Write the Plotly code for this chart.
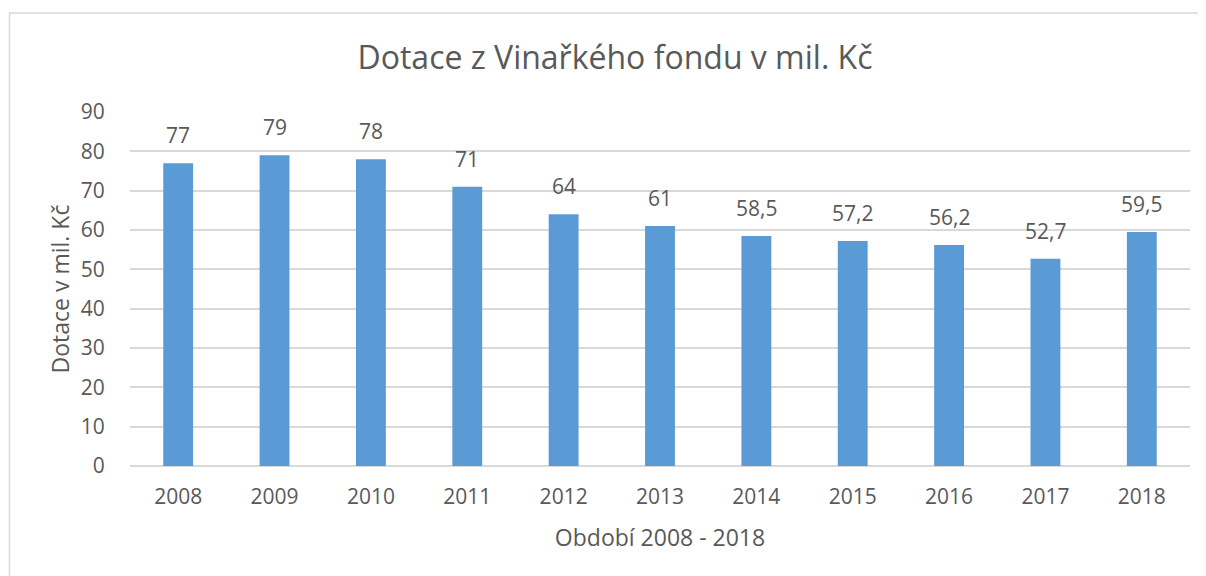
import plotly.graph_objects as go

years = ["2008", "2009", "2010", "2011", "2012", "2013", "2014", "2015", "2016", "2017", "2018"]
values = [77, 79, 78, 71, 64, 61, 58.5, 57.2, 56.2, 52.7, 59.5]
labels = ["77", "79", "78", "71", "64", "61", "58,5", "57,2", "56,2", "52,7", "59,5"]
y_ticks = [0, 10, 20, 30, 40, 50, 60, 70, 80, 90]

TXT = "#595959"
FONT = "Open Sans"

# page body has an 8px margin, so figure coordinates = screen - 8
W, H = 1198, 568
L, R, T, B = 122, 16, 104, 110
PW, PH = W - L - R, H - T - B

fig = go.Figure()
fig.add_trace(go.Bar(x=years, y=values, marker=dict(color="#5B9BD5", line=dict(width=0)),
                     width=0.31, hoverinfo="x+y"))

# category axis: annotation x given as category index
for i, (v, t) in enumerate(zip(values, labels)):
    fig.add_annotation(x=i, y=v, text=t, showarrow=False, yanchor="bottom", yshift=12,
                       font=dict(family=FONT, size=21, color=TXT))

fig.add_shape(type="rect", xref="paper", yref="paper",
              x0=(1.5 - L) / PW, x1=(W + 10 - L) / PW,
              y0=-(B + 20) / PH, y1=(H - B - 5) / PH,
              line=dict(color="#D9D9D9", width=1.5), fillcolor="rgba(0,0,0,0)", layer="below")

fig.update_layout(
    width=W, height=H,
    margin=dict(l=L, r=R, t=T, b=B),
    paper_bgcolor="white", plot_bgcolor="white",
    showlegend=False,
    font=dict(family=FONT, color=TXT, size=21),
    title=dict(text="Dotace z Vinařkého fondu v mil. Kč", x=607 / W, xanchor="center",
               y=1 - 50 / H, yanchor="middle", font=dict(family=FONT, size=32, color=TXT)),
)
fig.update_xaxes(type="category", range=[-0.5, len(years) - 0.5], showgrid=False, showline=False,
                 ticks="outside", ticklen=12,
                 tickcolor="rgba(0,0,0,0)", tickfont=dict(size=21, color=TXT),
                 title=dict(text="Období 2008 - 2018", font=dict(size=23, color=TXT), standoff=20))
fig.update_yaxes(range=[0, 90], tickvals=y_ticks, showgrid=True, gridcolor="#D9D9D9", gridwidth=1.5,
                 zeroline=True, zerolinecolor="#D9D9D9", zerolinewidth=1.5,
                 ticks="outside", ticklen=20, tickcolor="rgba(0,0,0,0)",
                 tickfont=dict(size=21, color=TXT),
                 title=dict(text="Dotace v mil. Kč", font=dict(size=23, color=TXT), standoff=4))

fig.write_html("out.html")
